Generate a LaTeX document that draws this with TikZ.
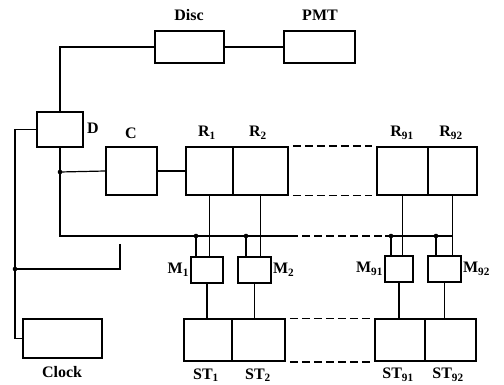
\documentclass[tikz,border=0pt]{standalone}
\usepackage{fontspec}
\setmainfont{Liberation Serif}
\usepackage{tikz}
\usetikzlibrary{arrows.meta,calc}
\newcommand{\tapdot}[1]{% {coordinate}
  \fill (#1) circle (2.3);
}
\tikzset{
  box/.style={draw,line width=1.8pt,inner sep=0pt,minimum height=#1},
  box/.default=48,
  wire/.style={line width=1.2pt},
  gap/.style={line width=1.2pt,dash pattern=on 8pt off 4pt},
  lbl/.style={font=\fontsize{16}{18}\selectfont\bfseries,inner sep=1pt}
}

\begin{document}
\begin{tikzpicture}[x=1pt,y=-1pt]
  \useasboundingbox (0,0) rectangle (504,385);
  % Detector chain
  \node[box=32,minimum width=69] (disc) at (189.5,47) {};
  \node[box=32,minimum width=71] (pmt) at (319.5,47) {};
  \node[lbl] (disclbl) at (189,15) {Disc};
  \node[lbl] (pmtlbl) at (320,15) {PMT};
  \node[box=35,minimum width=46] (d) at (60,129.5) {};
  \node[lbl,anchor=west] (dlbl) at (86,128) {D};
  \node[box,minimum width=51] (c) at (131.5,171) {};
  \node[lbl] (clbl) at (131,133) {C};
  % Registers
  \node[box,minimum width=47] (r1) at (209.5,171) {};
  \node[box,minimum width=55] (r2) at (260.5,171) {};
  \node[box,minimum width=51] (r91) at (402.5,171) {};
  \node[box,minimum width=49] (r92) at (452.5,171) {};
  \node[lbl] (r1lbl) at (207,133) {R\textsubscript{1}};
  \node[lbl] (r2lbl) at (258,133) {R\textsubscript{2}};
  \node[lbl] (r91lbl) at (402,133) {R\textsubscript{91}};
  \node[lbl] (r92lbl) at (451,133) {R\textsubscript{92}};
  % Gates
  \node[box=26,minimum width=32] (m1) at (207,270) {};
  \node[box=26,minimum width=33] (m2) at (254.5,270) {};
  \node[box=26,minimum width=28] (m91) at (399,269) {};
  \node[box=26,minimum width=33] (m92) at (444.5,269) {};
  \node[lbl,anchor=east] (m1lbl) at (m1.west) {M\textsubscript{1}};
  \node[lbl,anchor=west] (m2lbl) at (m2.east) {M\textsubscript{2}};
  \node[lbl,anchor=east] (m91lbl) at (m91.west) {M\textsubscript{91}};
  \node[lbl,anchor=west] (m92lbl) at (m92.east) {M\textsubscript{92}};
  % Stores
  \node[box=42,minimum width=48] (st1) at (208,340) {};
  \node[box=42,minimum width=53] (st2) at (258.5,340) {};
  \node[box=42,minimum width=50] (st91) at (400,340) {};
  \node[box=42,minimum width=51] (st92) at (450.5,340) {};
  \node[lbl] (st1lbl) at (206,375) {ST\textsubscript{1}};
  \node[lbl] (st2lbl) at (258,375) {ST\textsubscript{2}};
  \node[lbl] (st91lbl) at (398,375) {ST\textsubscript{91}};
  \node[lbl] (st92lbl) at (448,375) {ST\textsubscript{92}};
  % Clock
  \node[box=39,minimum width=79] (clock) at (62.5,338.5) {};
  \node[lbl] (clocklbl) at (62,372) {Clock};
  % Wiring
  \coordinate (dj) at (60,172);
  \coordinate (busl) at (60,236);
  \coordinate (fb) at (15,269);
  \coordinate (tick) at (120,244);
  \coordinate (bus1) at (196,236);
  \coordinate (bus2) at (246,236);
  \coordinate (bus91) at (391,236);
  \coordinate (bus92) at (436,236);
  \coordinate (busr) at (453,236);
  \draw[wire] (disc.east) -- (pmt.west);
  \draw[wire] (disc.west) -| (d.north);
  \draw[wire] (d.west) -| (fb) |- (clock.west);
  \draw[wire] (fb) -| (tick);
  \draw[line width=2.6pt] (tick) -- ++(0,12);
  \draw[wire] (d.south) -- (busl) -- (290,236);
  \draw[gap] (290,236) -- (385,236);
  \draw[wire] (385,236) -- (busr);
  \draw[wire] (dj) -- (c.west);
  \draw[wire] (c.east) -- (r1.west);
  \draw[gap] ([xshift=4]r2.north east) -- ([xshift=-4]r91.north west);
  \draw[gap] ([xshift=4]r2.south east) -- ([xshift=-4]r91.south west);
  \draw[gap] ([xshift=4]st2.north east) -- ([xshift=-4]st91.north west);
  \draw[gap] ([xshift=4]st2.south east) -- ([xshift=-4]st91.south west);
  \foreach \r/\m/\b/\s in {r1/m1/bus1/st1,r2/m2/bus2/st2,r91/m91/bus91/st91,r92/m92/bus92/st92}{
    \draw[wire] (\r.south) -- (\r.south |- \m.north);
    \draw[wire] (\b) -- (\b |- \m.north);
    \draw[wire] (\m.south) -- (\m.south |- \s.north);
  }
  % Junctions
  \tapdot{dj}
  \tapdot{fb}
  \tapdot{bus1}
  \tapdot{bus2}
  \tapdot{bus91}
  \tapdot{bus92}
\end{tikzpicture}
\end{document}
